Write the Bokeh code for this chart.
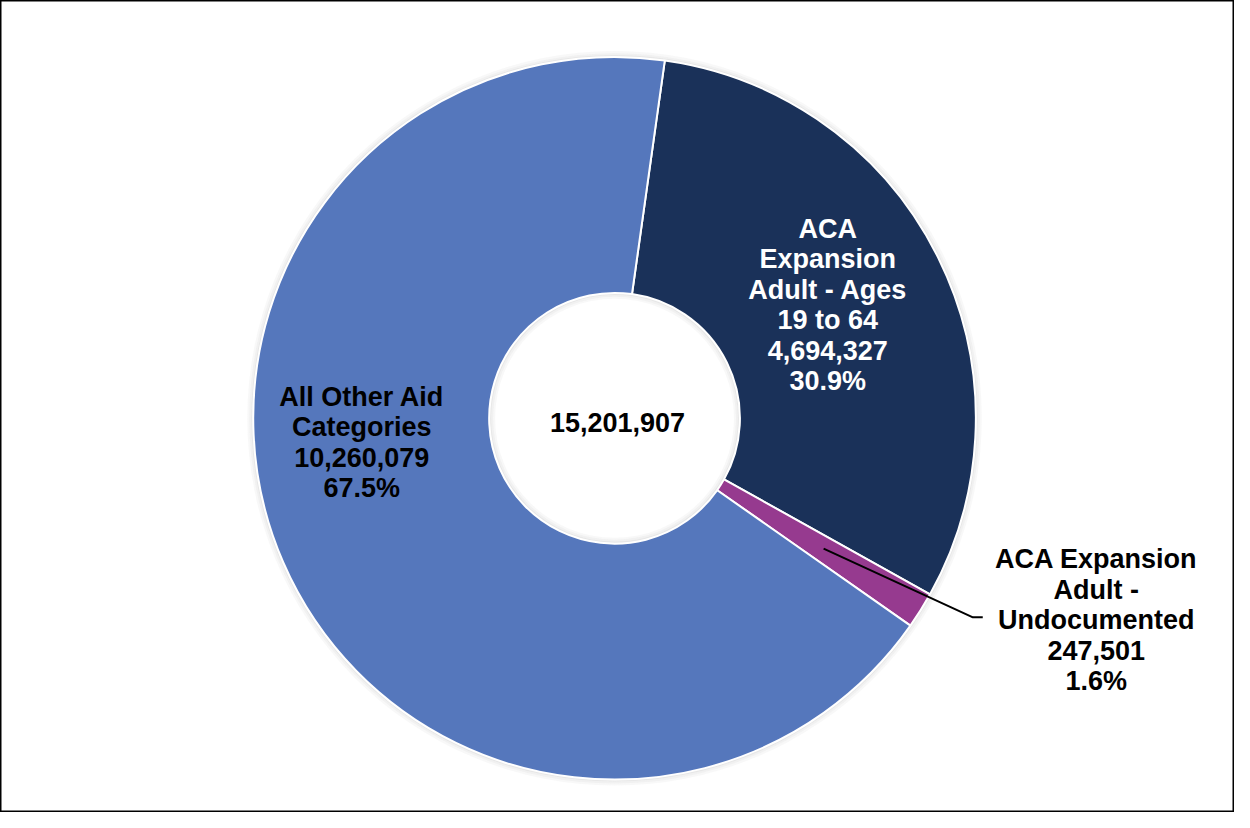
import math
from bokeh.plotting import figure
from bokeh.models import Range1d, ColumnDataSource
from bokeh.core.properties import value
from bokeh.embed import file_html
from bokeh.resources import INLINE

# ---- data ----
categories = ["ACA\nExpansion\nAdult - Ages\n19 to 64",
              "ACA Expansion\nAdult -\nUndocumented",
              "All Other Aid\nCategories"]
values = [4694327, 247501, 10260079]
colors = ["#1A3159", "#963A8F", "#5577BC"]
label_colors = ["white", "black", "black"]

total = sum(values)

# ---- layout constants (reference pixel coordinates) ----
W, H = 1250, 828
CX, CY = 622, 426          # donut centre (reference px)
R_OUT, R_IN = 366, 127
START_DEG = 8.0            # first slice starts 8 deg clockwise from 12 o'clock
LABEL_POS = [(838, 310.5), (1110, 632), (366, 450.5)]
LINE_H = 31
FONT = "Liberation Sans"
FSIZE = "27px"


def Y(py):  # reference y -> data y
    return H - py


p = figure(width=W - 16, height=H - 16, output_backend="svg", toolbar_location=None,
           x_range=Range1d(0, W), y_range=Range1d(0, H), min_border=0)
p.axis.visible = False
p.grid.visible = False
p.outline_line_color = "black"
p.outline_line_width = 2
p.background_fill_color = "white"
p.border_fill_color = "white"

# soft shadow rings
for i, a in enumerate([0.35, 0.2, 0.1]):
    p.annulus(x=CX, y=Y(CY), inner_radius=R_OUT + i * 2, outer_radius=R_OUT + i * 2 + 2,
              fill_color="#bbbbbb", fill_alpha=a, line_color=None)
    p.annulus(x=CX, y=Y(CY), inner_radius=R_IN - i * 2 - 2, outer_radius=R_IN - i * 2,
              fill_color="#bbbbbb", fill_alpha=a, line_color=None)

# wedges (clockwise from start)
starts, ends, mids = [], [], []
cum = 0.0
a0 = math.pi / 2 - math.radians(START_DEG)
for v in values:
    frac = v / total
    s = a0 - cum * 2 * math.pi
    e = s - frac * 2 * math.pi
    starts.append(s)
    ends.append(e)
    mids.append((s + e) / 2)
    cum += frac

src = ColumnDataSource(dict(start=ends, end=starts, color=colors))
p.annular_wedge(x=CX, y=Y(CY), inner_radius=R_IN, outer_radius=R_OUT,
                start_angle="start", end_angle="end", direction="anticlock",
                fill_color="color", line_color="white", line_width=2, source=src)

# leader line for the small slice
lx0 = CX + 250 * math.cos(mids[1])
ly0 = Y(CY) + 250 * math.sin(mids[1])
p.line(x=[lx0, 985, 995], y=[ly0, Y(629), Y(629)], line_color="black", line_width=2)

# labels
for cat, v, col, (lx, ly) in zip(categories, values, label_colors, LABEL_POS):
    lines = cat.split("\n") + [f"{v:,}", f"{v / total * 100:.1f}%"]
    n = len(lines)
    ys = [ly + (i - (n - 1) / 2) * LINE_H for i in range(n)]
    p.text(x=[lx] * n, y=[Y(yy) for yy in ys], text=lines,
           text_font=value(FONT), text_font_style="bold", text_font_size=FSIZE,
           text_color=col, text_align="center", text_baseline="middle")

p.text(x=[625], y=[Y(430)], text=[f"{total:,}"],
       text_font=value(FONT), text_font_style="bold", text_font_size=FSIZE,
       text_color="black", text_align="center", text_baseline="middle")

open("out.html", "w").write(file_html(p, INLINE))
